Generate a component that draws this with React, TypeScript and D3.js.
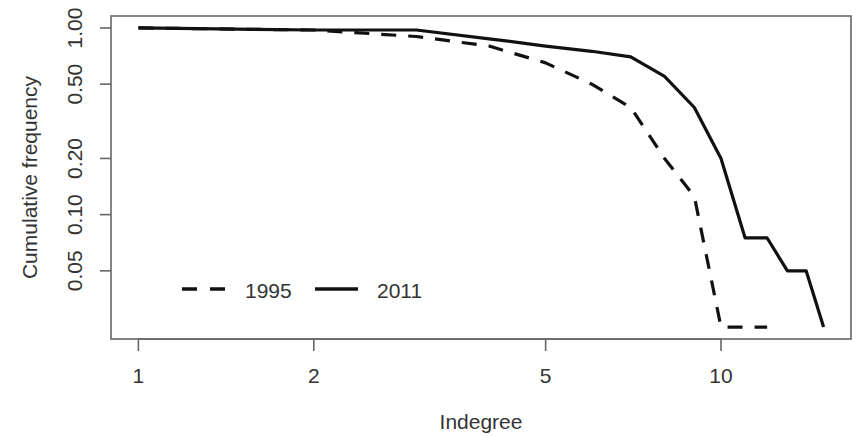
import React from "react";
import * as d3 from "d3";

// Cumulative indegree distribution, log-log
const indegree1995 = [1, 2, 3, 4, 5, 6, 7, 8, 9, 10, 11, 12];
const freq1995 = [1, 0.975, 0.9, 0.8, 0.65, 0.5, 0.375, 0.2, 0.125, 0.025, 0.025, 0.025];

const indegree2011 = [1, 2, 3, 4, 5, 6, 7, 8, 9, 10, 11, 12, 13, 14, 15];
const freq2011 = [1, 0.975, 0.975, 0.875, 0.8, 0.75, 0.7, 0.55, 0.375, 0.2, 0.075, 0.075, 0.05, 0.05, 0.025];

const xTicks = [1, 2, 5, 10];
const yTicks = [0.05, 0.1, 0.2, 0.5, 1];
const yTickLabels = ["0.05", "0.10", "0.20", "0.50", "1.00"];

const W = 858;
const H = 437;
const box = { left: 111, right: 851, top: 16, bottom: 339 };
const FONT = "'Liberation Sans', Arial, sans-serif";
const TXT = "#333";

// R-style 4% padding on log axes
const padLog = (lo: number, hi: number) => {
  const a = Math.log10(lo);
  const b = Math.log10(hi);
  const p = (b - a) * 0.04;
  return [Math.pow(10, a - p), Math.pow(10, b + p)];
};

const x = d3.scaleLog().domain(padLog(1, 15)).range([box.left, box.right]);
const y = d3.scaleLog().domain(padLog(0.025, 1)).range([box.bottom, box.top]);

const line = d3
  .line<[number, number]>()
  .x((d) => x(d[0]))
  .y((d) => y(d[1]));

const pts = (xs: number[], ys: number[]) =>
  xs.map((v, i) => [v, ys[i]] as [number, number]);

export default function App() {
  return (
    <div style={{ position: "fixed", left: 0, top: 0 }}>
      <svg width={W} height={H} style={{ display: "block", background: "#fff" }}>
        <rect
          x={box.left}
          y={box.top}
          width={box.right - box.left}
          height={box.bottom - box.top}
          fill="none"
          stroke="#666"
          strokeWidth={1.6}
        />

        {/* x axis */}
        <line
          x1={x(xTicks[0])}
          x2={x(xTicks[xTicks.length - 1])}
          y1={box.bottom}
          y2={box.bottom}
          stroke="#666"
          strokeWidth={1.6}
        />
        {xTicks.map((t) => (
          <g key={t}>
            <line
              x1={x(t)}
              x2={x(t)}
              y1={box.bottom}
              y2={box.bottom + 12}
              stroke="#666"
              strokeWidth={1.6}
            />
            <text
              x={x(t)}
              y={383}
              textAnchor="middle"
              fontFamily={FONT}
              fontSize={21}
              fill={TXT}
            >
              {t}
            </text>
          </g>
        ))}

        {/* y axis */}
        {yTicks.map((t, i) => (
          <g key={t}>
            <line
              x1={box.left - 11}
              x2={box.left}
              y1={y(t)}
              y2={y(t)}
              stroke="#666"
              strokeWidth={1.6}
            />
            <text
              transform={`translate(82,${y(t)}) rotate(-90)`}
              textAnchor="middle"
              fontFamily={FONT}
              fontSize={21}
              fill={TXT}
            >
              {yTickLabels[i]}
            </text>
          </g>
        ))}

        <text
          x={(box.left + box.right) / 2}
          y={429}
          textAnchor="middle"
          fontFamily={FONT}
          fontSize={21}
          fill={TXT}
        >
          Indegree
        </text>
        <text
          transform={`translate(37,${(box.top + box.bottom) / 2}) rotate(-90)`}
          textAnchor="middle"
          fontFamily={FONT}
          fontSize={21}
          fill={TXT}
        >
          Cumulative frequency
        </text>

        {/* series */}
        <path
          d={line(pts(indegree2011, freq2011)) || ""}
          fill="none"
          stroke="#111"
          strokeWidth={3.2}
          strokeLinejoin="round"
        />
        <path
          d={line(pts(indegree1995, freq1995)) || ""}
          fill="none"
          stroke="#111"
          strokeWidth={3.2}
          strokeDasharray="15,12"
          strokeLinejoin="round"
        />

        {/* legend */}
        <line x1={182} x2={227} y1={289} y2={289} stroke="#111" strokeWidth={3.6} strokeDasharray="15,13" />
        <text x={245} y={298} fontFamily={FONT} fontSize={21} fill={TXT}>
          1995
        </text>
        <line x1={315} x2={358} y1={289} y2={289} stroke="#111" strokeWidth={3.6} />
        <text x={377} y={298} fontFamily={FONT} fontSize={21} fill={TXT}>
          2011
        </text>
      </svg>
    </div>
  );
}
